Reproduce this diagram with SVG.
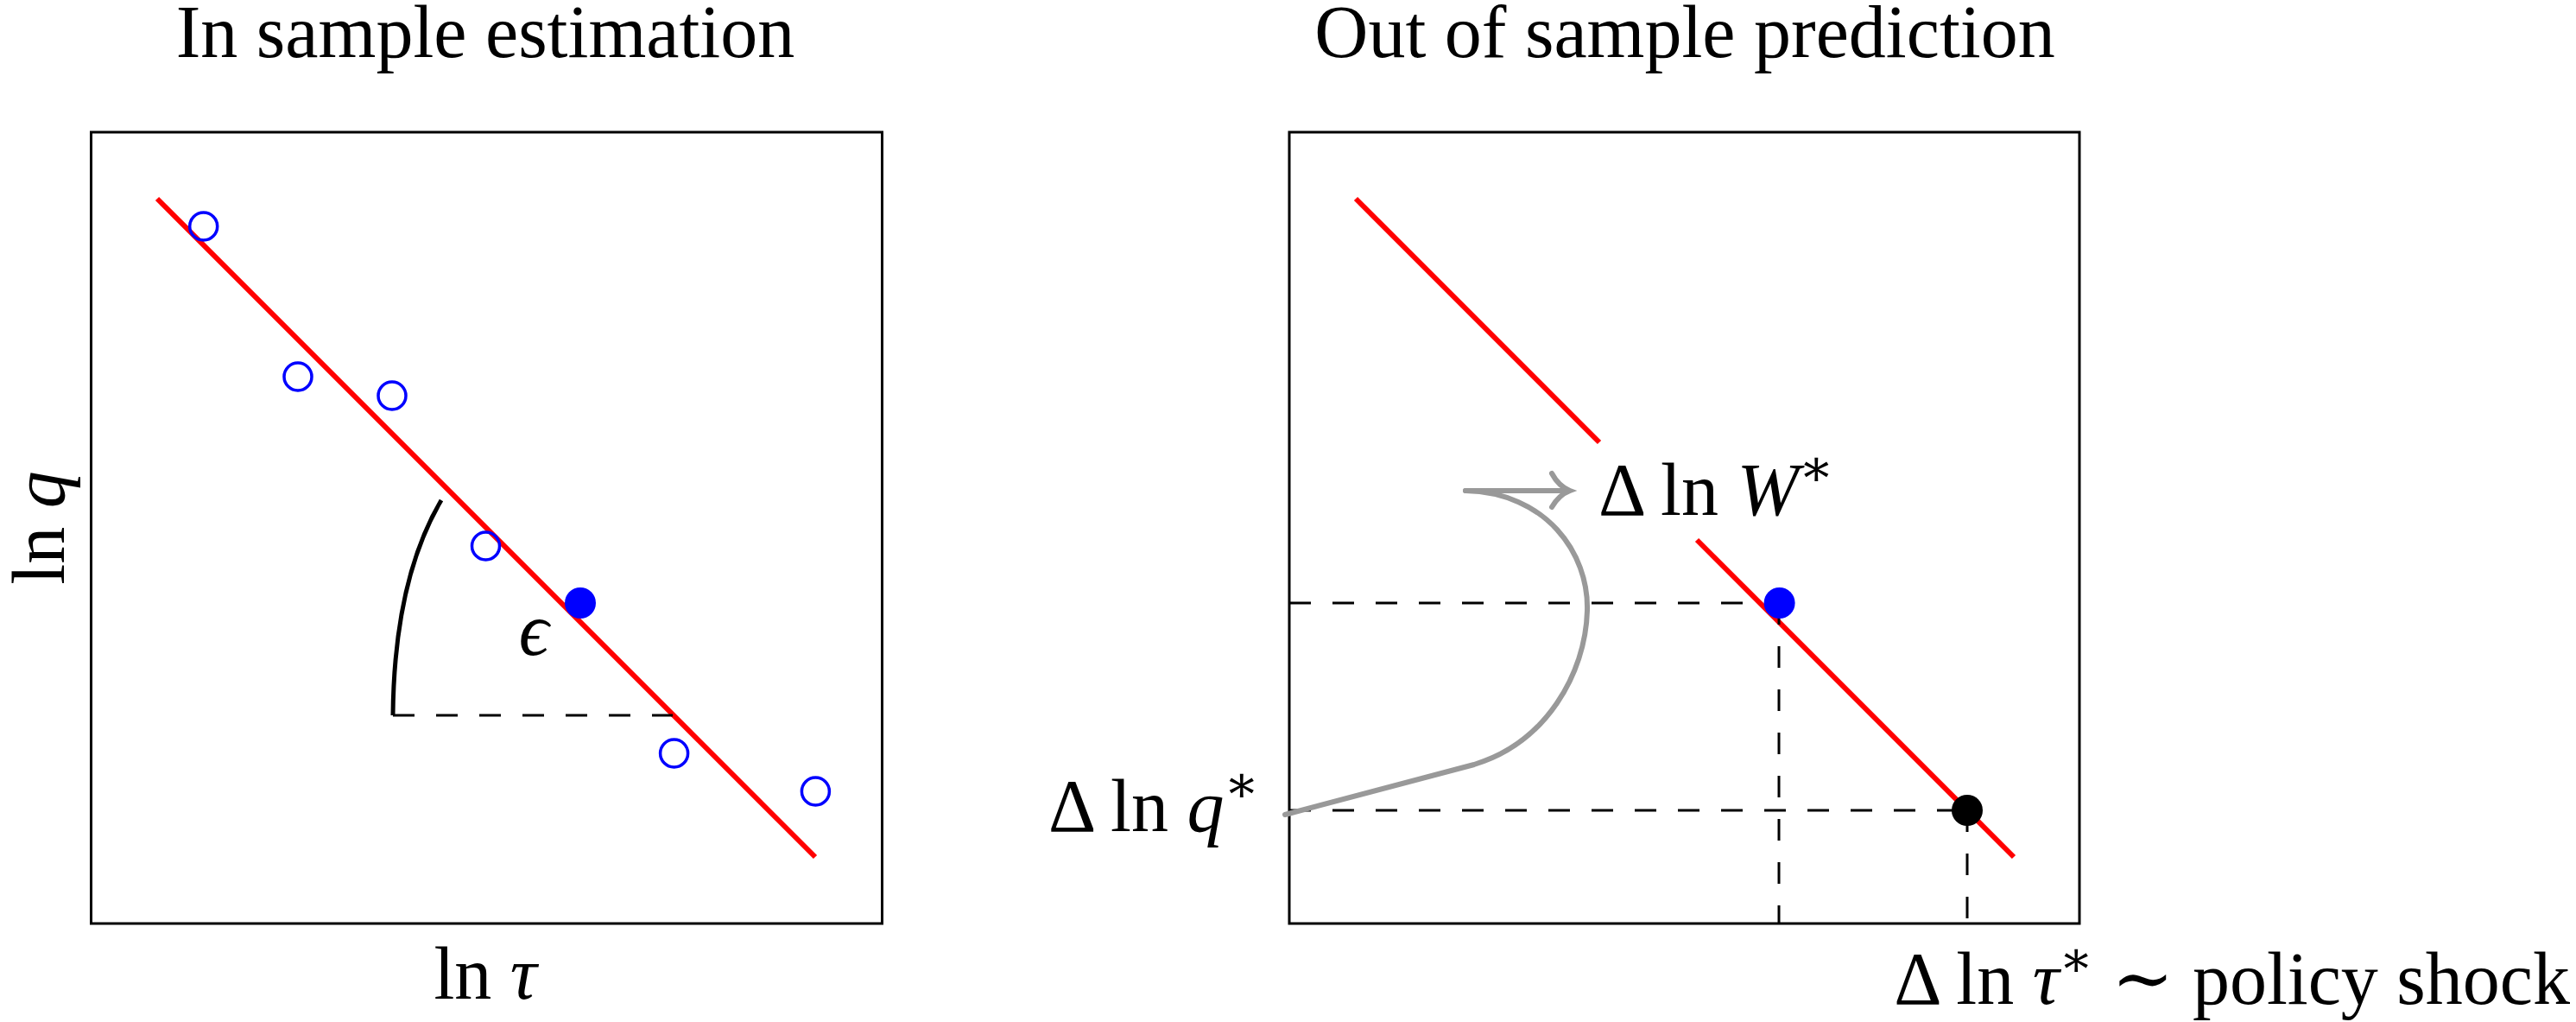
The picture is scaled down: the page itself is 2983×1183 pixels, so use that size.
<svg xmlns="http://www.w3.org/2000/svg" width="2983" height="1183" viewBox="0 0 2983 1183">
<style>
text{font-family:"Liberation Serif","DejaVu Serif",serif;font-size:86px;fill:#000}
.it{font-style:italic}
.box{fill:none;stroke:#000;stroke-width:3}
.red{stroke:#ff0000;stroke-width:6;fill:none}
.oc{fill:none;stroke:#0000ff;stroke-width:3.5}
.dash{stroke:#000;stroke-width:3;stroke-dasharray:25,25;fill:none}
.grey{stroke:#999;stroke-width:6;fill:none;stroke-linecap:round}
</style>
<rect width="2983" height="1183" fill="#fff"/>
<g id="left-panel">
<text x="562" y="66" text-anchor="middle">In sample estimation</text>
<rect class="box" x="105.5" y="153" width="916" height="916"/>
<line class="red" x1="182" y1="230" x2="944" y2="992"/>
<circle class="oc" cx="235.7" cy="262" r="16"/>
<circle class="oc" cx="345" cy="436" r="16"/>
<circle class="oc" cx="454" cy="458" r="16"/>
<circle class="oc" cx="562.5" cy="632" r="16"/>
<circle class="oc" cx="780.6" cy="872" r="16"/>
<circle class="oc" cx="944.4" cy="916" r="16"/>
<circle cx="672" cy="698" r="18" fill="#0000ff"/>
<path d="M511,579 C475,640 456,720 455,828" stroke="#000" stroke-width="5" fill="none"/>
<line class="dash" x1="455" y1="828" x2="779" y2="828"/>
<text x="618" y="758" text-anchor="middle" class="it" font-size="70">ϵ</text>
<text x="562" y="1156" text-anchor="middle">ln <tspan class="it">τ</tspan></text>
<text transform="translate(74,611) rotate(-90)" text-anchor="middle">ln <tspan class="it">q</tspan></text>
</g>
<g id="right-panel">
<text x="1951" y="66" text-anchor="middle">Out of sample prediction</text>
<rect class="box" x="1493" y="153" width="915" height="916"/>
<line class="red" x1="1570" y1="230" x2="1852" y2="512"/>
<line class="red" x1="1965" y1="625" x2="2332" y2="992"/>
<line class="dash" x1="1493" y1="698" x2="2060" y2="698"/>
<line class="dash" x1="2060" y1="698" x2="2060" y2="1069"/>
<line class="dash" x1="1493" y1="938" x2="2278" y2="938"/>
<line class="dash" x1="2278" y1="938" x2="2278" y2="1069"/>
<circle cx="2060.6" cy="698" r="18" fill="#0000ff"/>
<circle cx="2278" cy="938" r="18" fill="#000"/>
<text x="1851" y="596">Δ ln <tspan class="it">W</tspan><tspan font-size="60" dy="-34">∗</tspan></text>
<text x="1214" y="962">Δ ln <tspan class="it">q</tspan><tspan font-size="60" dy="-34">∗</tspan></text>
<text x="2976" y="1162" text-anchor="end" font-size="82">Δ ln <tspan class="it">τ</tspan><tspan font-size="58" dy="-32">∗</tspan><tspan dy="32"> ∼ policy shock</tspan></text>
</g>
<g id="connectors">
<path class="grey" d="M1697,568 L1816,568 M1797,548 Q1805,563 1818,568 Q1805,573 1797,587"/>
<path class="grey" d="M1697,568 C1790,570 1840,640 1838,707 C1836,780 1790,860 1707,885 L1488,943" stroke-linecap="butt"/>
</g>
</svg>
